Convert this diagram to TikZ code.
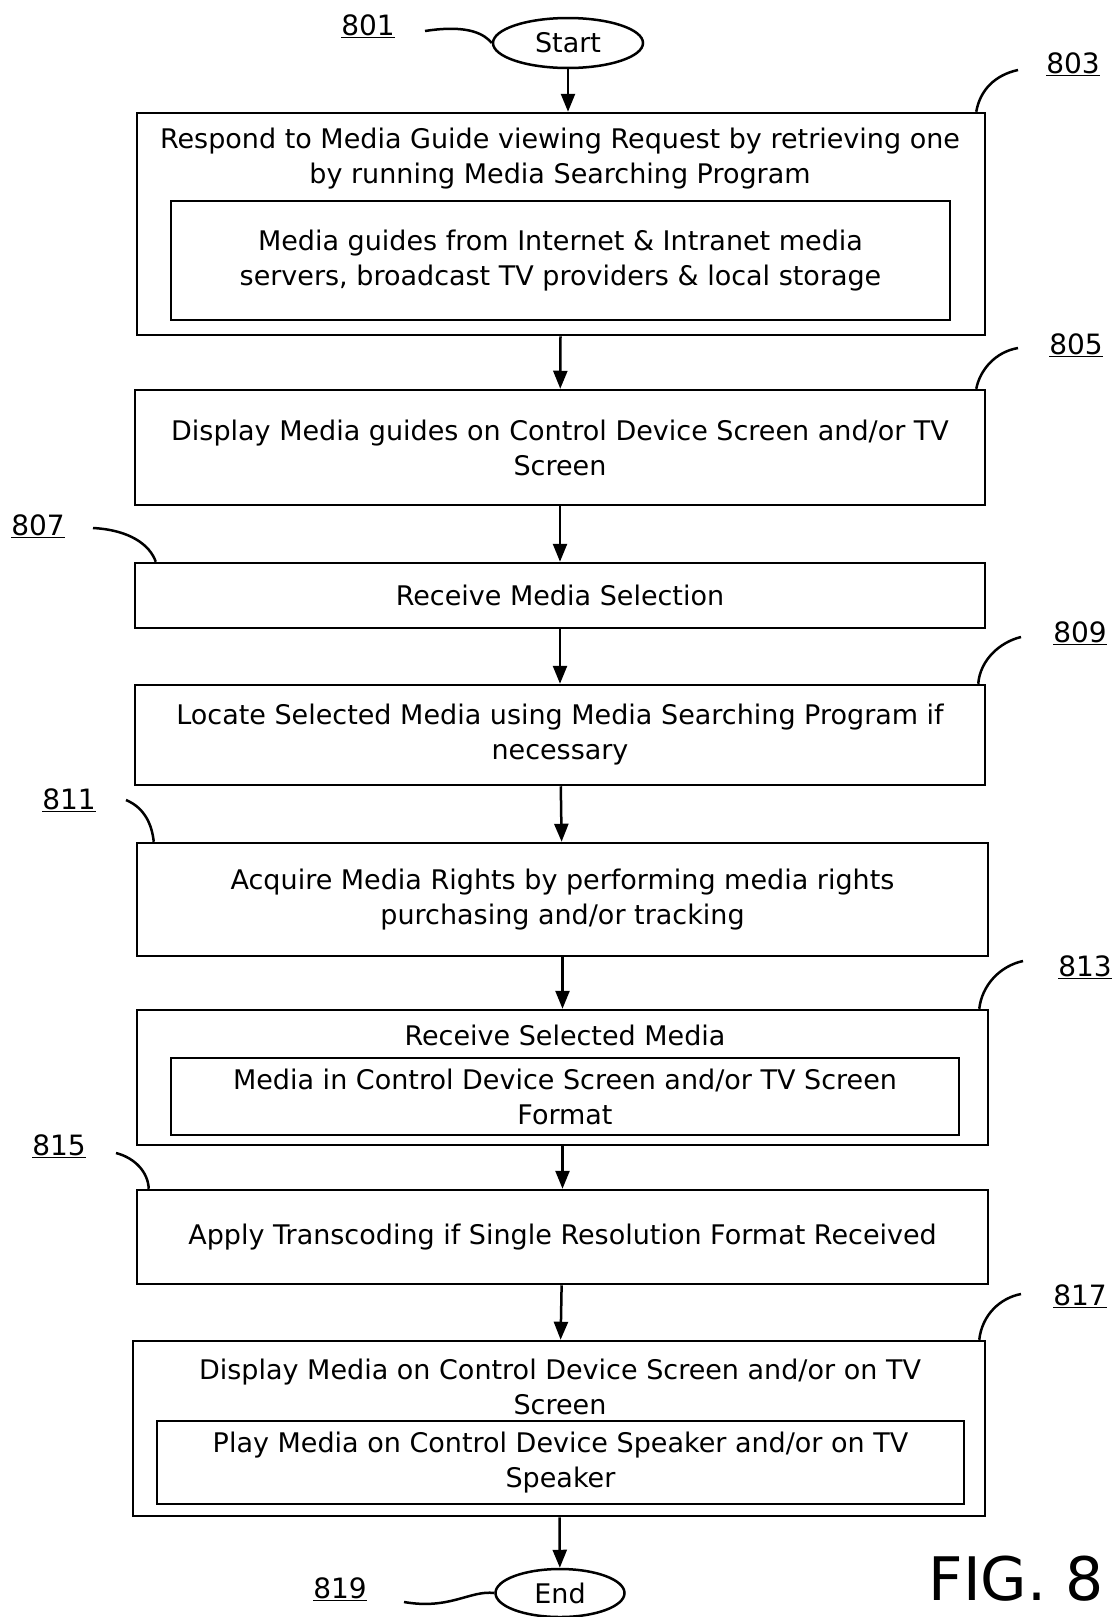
\documentclass[tikz,border=0pt]{standalone}
\usepackage{fontspec}
\setmainfont{DejaVu Sans}
\usetikzlibrary{shapes.geometric,arrows.meta}

\begin{document}
\begin{tikzpicture}[x=1pt,y=-1pt]
\tikzstyle{every node}+=[inner sep=0pt,font=\fontsize{27}{35}\selectfont]
\tikzstyle{box}=[draw,line width=2.5pt,rectangle]
\tikzstyle{txt}=[align=center]
\tikzstyle{inbox}=[draw,line width=2.5pt,rectangle,align=center]
\tikzstyle{term}=[draw,line width=2.5pt,ellipse]
\tikzstyle{flow}=[line width=2.5pt,-{Triangle[length=18pt,width=14pt]}]
\tikzstyle{lead}=[line width=2.5pt]
\tikzstyle{num}=[font=\fontsize{28}{28}\selectfont]
\useasboundingbox (0,0) rectangle (1116,1617);
% terminals
\node [term,minimum width=150,minimum height=50] (start) at (568,43) {Start};
\node [term,minimum width=129,minimum height=48] (end) at (560,1593) {End};
% step boxes
\node [box,minimum width=848,minimum height=222] (b803) at (561,224) {};
\node [txt] (t803) at (560,159) {Respond to Media Guide viewing Request by retrieving one\\by running Media Searching Program};
\node [inbox,minimum width=779,minimum height=119] (i803) at (560.5,260.5) {Media guides from Internet \& Intranet media\\servers, broadcast TV providers \& local storage};
\node [box,txt,minimum width=850,minimum height=115] (b805) at (560,447.5) {Display Media guides on Control Device Screen and/or TV\\Screen};
\node [box,txt,minimum width=850,minimum height=65] (b807) at (560,595.5) {Receive Media Selection};
\node [box,txt,minimum width=850,minimum height=100] (b809) at (560,735) {Locate Selected Media using Media Searching Program if\\necessary};
\node [box,txt,minimum width=851,minimum height=113] (b811) at (562.5,899.5) {Acquire Media Rights by performing media rights\\purchasing and/or tracking};
\node [box,minimum width=851,minimum height=135] (b813) at (562.5,1077.5) {};
\node [txt] (t813) at (565,1035) {Receive Selected Media};
\node [inbox,minimum width=788,minimum height=77] (i813) at (565,1096.5) {Media in Control Device Screen and/or TV Screen\\Format};
\node [box,txt,minimum width=851,minimum height=94] (b815) at (562.5,1237) {Apply Transcoding if Single Resolution Format Received};
\node [box,minimum width=852,minimum height=175] (b817) at (559,1428.5) {};
\node [txt] (t817) at (560,1387) {Display Media on Control Device Screen and/or on TV\\Screen};
\node [inbox,minimum width=807,minimum height=83] (i817) at (560.5,1462.5) {Play Media on Control Device Speaker and/or on TV\\Speaker};
% flow
\draw [flow] (start) -- (start |- b803.north);
\draw [flow] (b803) -- (b805);
\draw [flow] (b805) -- (b807);
\draw [flow] (b807) -- (b809);
\draw [flow] (b809) -- (b811);
\draw [flow] (b811) -- (b813);
\draw [flow] (b813) -- (b815);
\draw [flow] (b815) -- (b817);
\draw [flow] (b817) -- (end);
% reference numerals
\node [num] (l801) at (368,26) {\underline{801}};
\node [num] (l803) at (1073,64) {\underline{803}};
\node [num] (l805) at (1076,345) {\underline{805}};
\node [num] (l807) at (38,526) {\underline{807}};
\node [num] (l809) at (1080,633) {\underline{809}};
\node [num] (l811) at (69,800) {\underline{811}};
\node [num] (l813) at (1085,967) {\underline{813}};
\node [num] (l815) at (59,1146) {\underline{815}};
\node [num] (l817) at (1080,1296) {\underline{817}};
\node [num] (l819) at (340,1589) {\underline{819}};
\node [font=\fontsize{60}{60}\selectfont,anchor=base] (fig) at (1016,1600) {FIG. 8};
% leader lines
\coordinate (c801) at (425,31);
\coordinate (c803) at (1018,70);
\coordinate (c805) at (1018,348);
\coordinate (c807) at (93,528);
\coordinate (c809) at (1021,637);
\coordinate (c811) at (126,800);
\coordinate (c813) at (1023,961);
\coordinate (c815) at (116,1153);
\coordinate (c817) at (1021,1294);
\coordinate (c819) at (404,1602);
\draw [lead] (c801) .. controls (470,24) and (485,35) .. (start.west);
\draw [lead] ([xshift=-10]b803.north east) .. controls (980,90) and (995,75) .. (c803);
\draw [lead] ([xshift=-10]b805.north east) .. controls (980,370) and (995,352) .. (c805);
\draw [lead] (c807) .. controls (130,530) and (150,545) .. ([xshift=22]b807.north west);
\draw [lead] ([xshift=-8]b809.north east) .. controls (980,660) and (1000,642) .. (c809);
\draw [lead] (c811) .. controls (145,808) and (152,825) .. ([xshift=18]b811.north west);
\draw [lead] ([xshift=-10]b813.north east) .. controls (982,985) and (1000,966) .. (c813);
\draw [lead] (c815) .. controls (135,1158) and (148,1172) .. ([xshift=13]b815.north west);
\draw [lead] ([xshift=-7]b817.north east) .. controls (982,1315) and (1000,1298) .. (c817);
\draw [lead] (c819) .. controls (450,1610) and (470,1590) .. (end.west);
\end{tikzpicture}
\end{document}
